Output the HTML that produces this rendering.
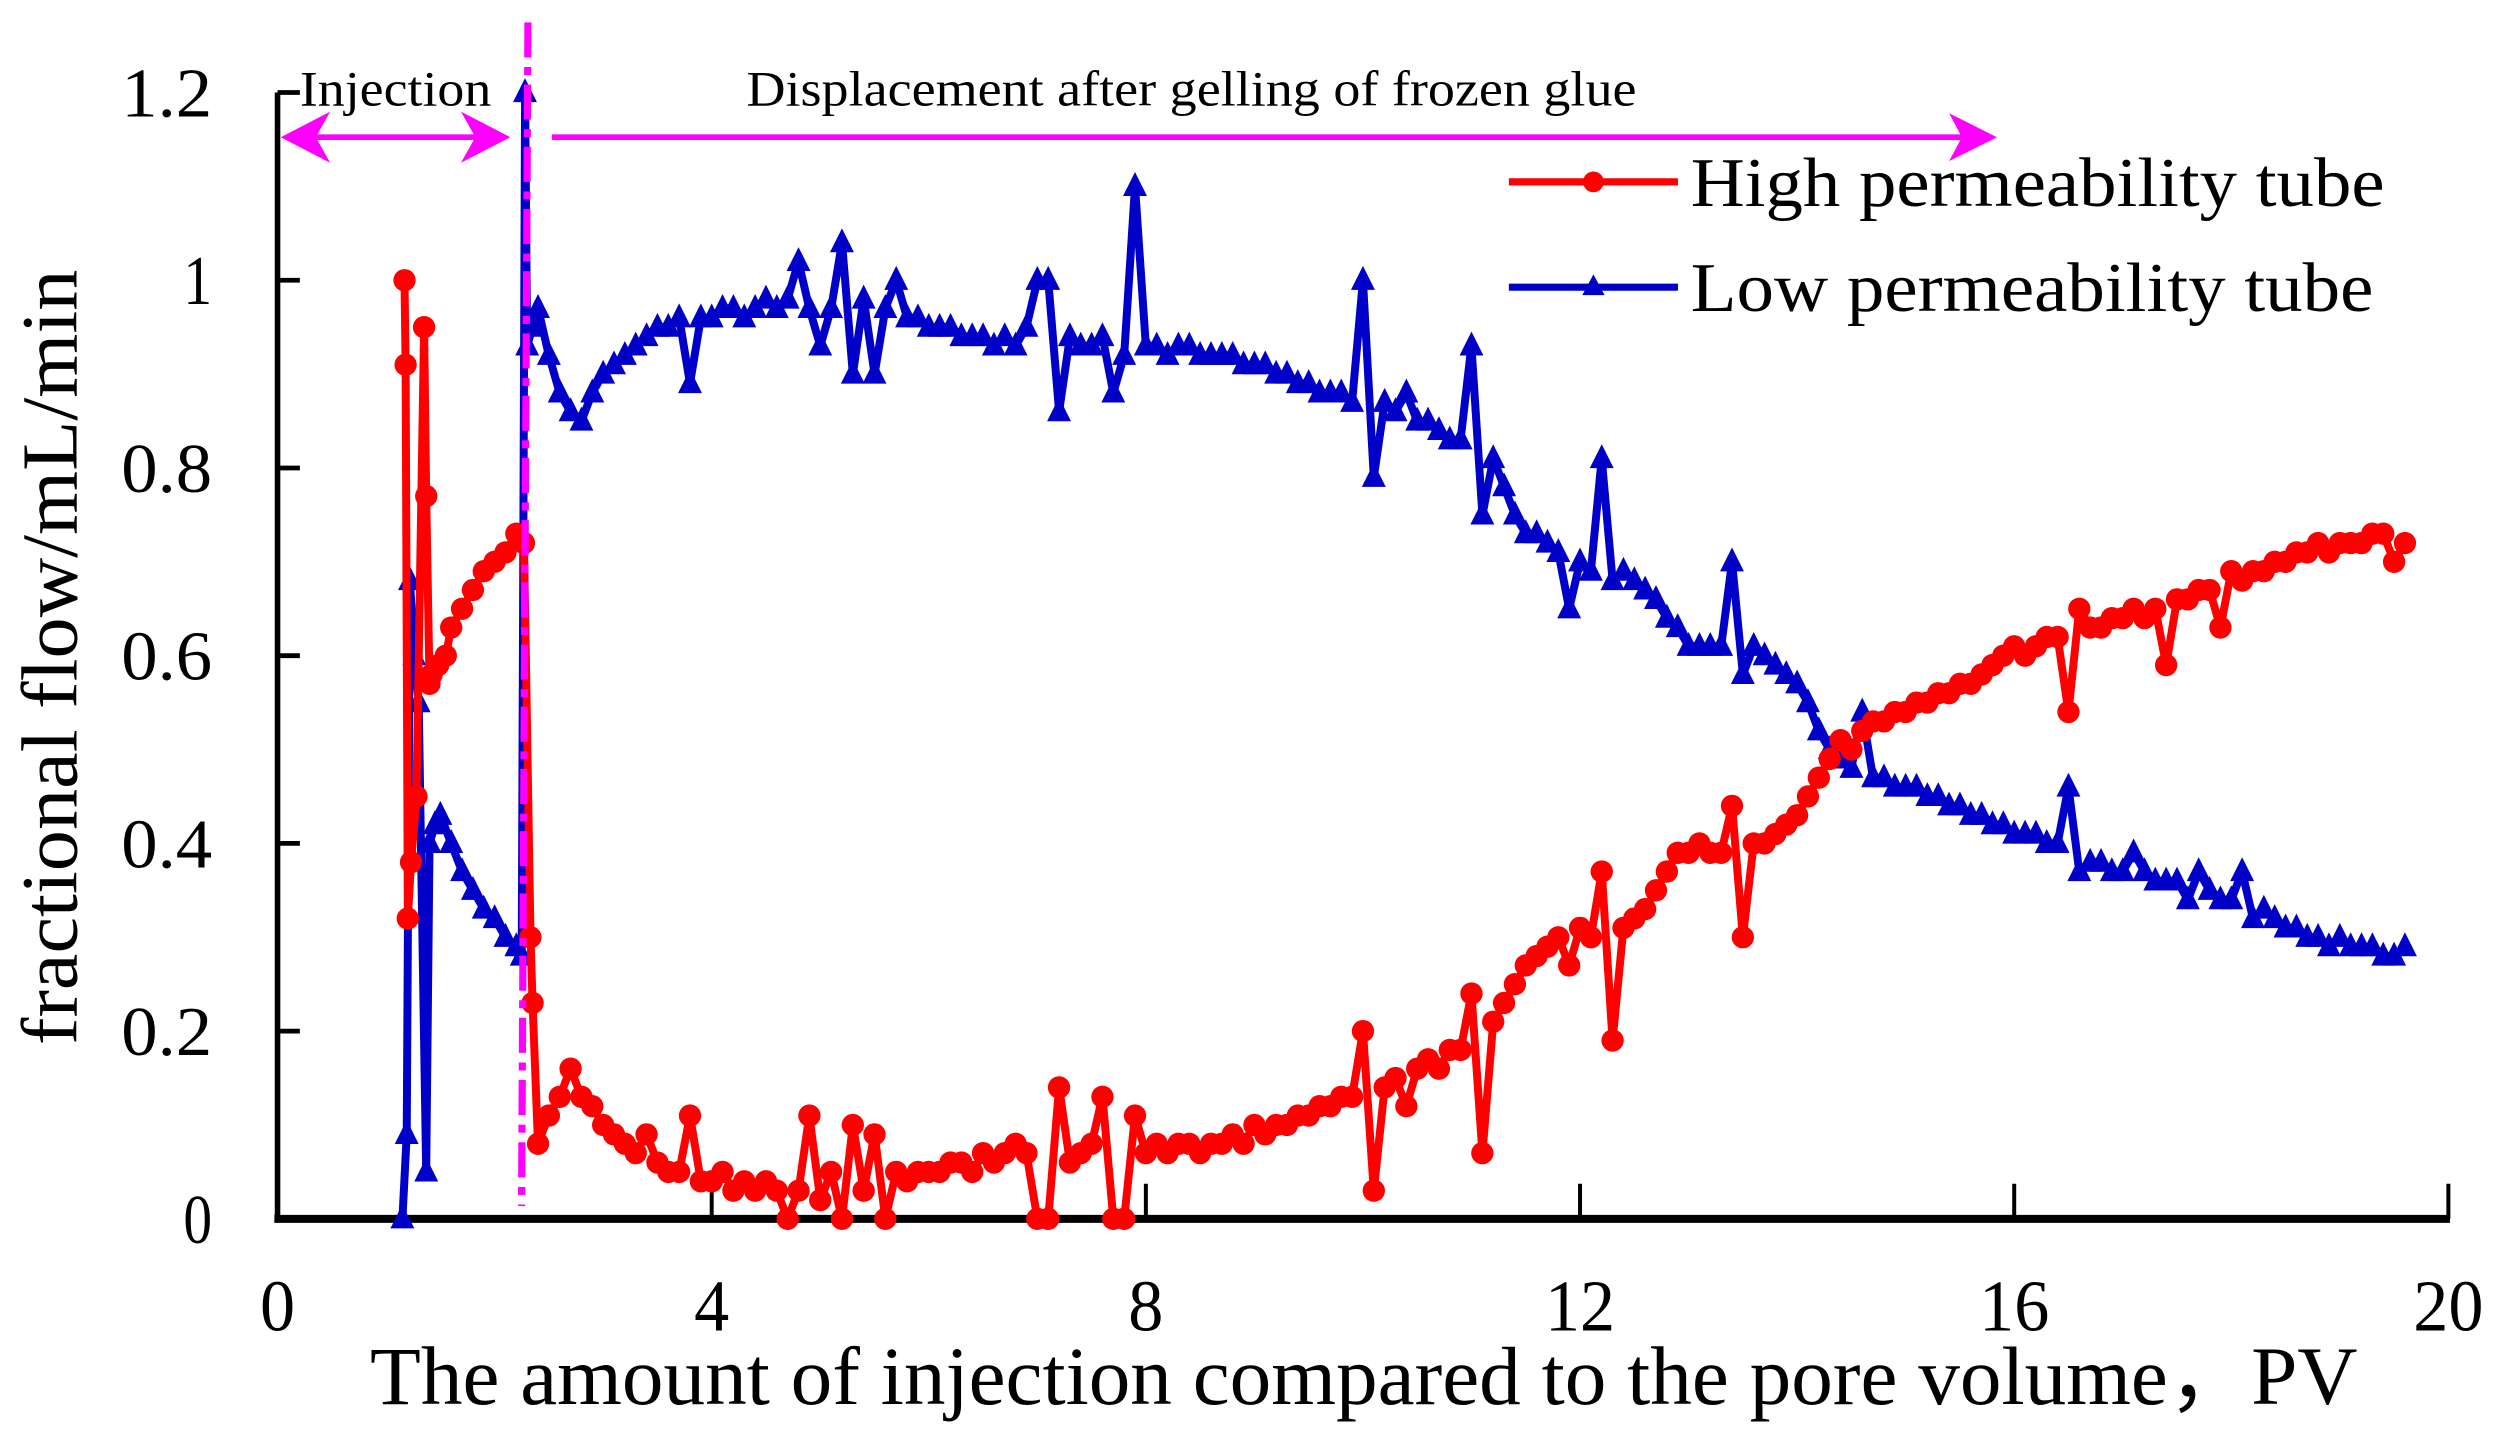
<!DOCTYPE html>
<html><head><meta charset="utf-8"><style>
html,body{margin:0;padding:0;background:#fff;}
svg{display:block;}
text{font-family:"Liberation Serif",serif;fill:#000;}
</style></head><body>
<svg id="chart" width="2501" height="1439" viewBox="0 0 1568 902" preserveAspectRatio="none" xmlns="http://www.w3.org/2000/svg">
<g id="axes"></g>
<g id="series"></g>
<g id="annot">
  <line x1="331" y1="14" x2="327" y2="756" stroke="#ff00ff" stroke-width="4.5" stroke-dasharray="22,6,5,6"/>
  <line x1="186" y1="86" x2="310" y2="86" stroke="#ff00ff" stroke-width="3.5"/>
  <polygon points="176,86 207,70 198,86 207,102" fill="#ff00ff"/>
  <polygon points="320,86 289,70 298,86 289,102" fill="#ff00ff"/>
  <text x="188" y="66" font-size="31" textLength="120" lengthAdjust="spacingAndGlyphs">Injection</text>
  <line x1="346" y1="86" x2="1236" y2="86" stroke="#ff00ff" stroke-width="3.5"/>
  <polygon points="1252,86 1222,71 1230,86 1222,101" fill="#ff00ff"/>
  <text x="468" y="66" font-size="31" textLength="558" lengthAdjust="spacingAndGlyphs">Displacement after gelling of frozen glue</text>
</g>
<g id="legend">
  <g>
    <line x1="946" y1="114" x2="1052" y2="114" stroke="#ff0000" stroke-width="4.5"/>
    <circle cx="999" cy="114" r="6.5" fill="#ff0000"/>
    <text x="1060" y="129" font-size="44" textLength="435" lengthAdjust="spacingAndGlyphs">High permeability tube</text>
  </g>
  <g>
    <line x1="946" y1="180" x2="1052" y2="180" stroke="#0000c8" stroke-width="4.5"/>
    <polygon points="999,172 1006,185 992,185" fill="#0000c8"/>
    <text x="1060" y="195" font-size="44" textLength="428" lengthAdjust="spacingAndGlyphs">Low permeability tube</text>
  </g>
</g>
<text x="232" y="880" font-size="52" textLength="1246" lengthAdjust="spacingAndGlyphs">The amount of injection compared to the pore volume，PV</text>
<text x="0" y="0" font-size="50" textLength="486" lengthAdjust="spacingAndGlyphs" text-anchor="middle" transform="translate(48,412) rotate(-90)">fractional flow/mL/min</text>
</svg>
<script>
const xTicks = [0, 4, 8, 12, 16, 20];
const yTicks = [0, 0.2, 0.4, 0.6, 0.8, 1, 1.2];
const yTickLabels = ["0", "0.2", "0.4", "0.6", "0.8", "1", "1.2"];
const injHighX = [1.17,1.18,1.2,1.23,1.28,1.35,1.37,1.4,1.42,1.48,1.55,1.6,1.7,1.8,1.9,2.0,2.1,2.2,2.27,2.33,2.35];
const injHighY = [1,0.91,0.32,0.38,0.45,0.95,0.77,0.57,0.58,0.59,0.6,0.63,0.65,0.67,0.69,0.7,0.71,0.73,0.72,0.3,0.23];
const injLowX = [1.15,1.19,1.22,1.26,1.3,1.37,1.4,1.45,1.5,1.6,1.7,1.8,1.9,2.0,2.1,2.2,2.25,2.28,2.3,2.35];
const injLowY = [0,0.09,0.68,0.6,0.55,0.05,0.4,0.42,0.43,0.4,0.37,0.35,0.33,0.32,0.3,0.29,0.28,1.2,0.93,0.95];
const dispStart = 2.4;
const dispStep = 0.1;
const dispLow = [.97,.92,.88,.86,.85,.88,.90,.91,.92,.93,.94,.95,.95,.96,.89,.96,.96,.97,.97,.96,.97,.98,.97,.98,1.02,.97,.93,.97,1.04,.90,.98,.90,.97,1.00,.96,.96,.95,.95,.95,.94,.94,.94,.93,.94,.93,.95,1.00,1.00,.86,.94,.93,.93,.94,.88,.92,1.10,.93,.93,.92,.93,.93,.92,.92,.92,.92,.91,.91,.91,.90,.90,.89,.89,.88,.88,.88,.87,1.00,.79,.87,.86,.88,.85,.85,.84,.83,.83,.93,.75,.81,.78,.75,.73,.73,.72,.71,.65,.70,.69,.81,.68,.69,.68,.67,.66,.64,.63,.61,.61,.61,.61,.70,.58,.61,.60,.59,.58,.57,.55,.52,.50,.49,.48,.54,.47,.47,.46,.46,.46,.45,.45,.44,.44,.43,.43,.42,.42,.41,.41,.41,.40,.40,.46,.37,.38,.38,.37,.37,.39,.37,.36,.36,.36,.34,.37,.35,.34,.34,.37,.32,.33,.32,.31,.31,.30,.30,.29,.30,.29,.29,.29,.28,.28,.29];
const dispHigh = [.08,.11,.13,.16,.13,.12,.10,.09,.08,.07,.09,.06,.05,.05,.11,.04,.04,.05,.03,.04,.03,.04,.03,.00,.03,.11,.02,.05,.00,.10,.03,.09,.00,.05,.04,.05,.05,.05,.06,.06,.05,.07,.06,.07,.08,.07,.00,.00,.14,.06,.07,.08,.13,.00,.00,.11,.07,.08,.07,.08,.08,.07,.08,.08,.09,.08,.10,.09,.10,.10,.11,.11,.12,.12,.13,.13,.20,.03,.14,.15,.12,.16,.17,.16,.18,.18,.24,.07,.21,.23,.25,.27,.28,.29,.30,.27,.31,.30,.37,.19,.31,.32,.33,.35,.37,.39,.39,.40,.39,.39,.44,.30,.40,.40,.41,.42,.43,.45,.47,.49,.51,.50,.52,.53,.53,.54,.54,.55,.55,.56,.56,.57,.57,.58,.59,.60,.61,.60,.61,.62,.62,.54,.65,.63,.63,.64,.64,.65,.64,.65,.59,.66,.66,.67,.67,.63,.69,.68,.69,.69,.70,.70,.71,.71,.72,.71,.72,.72,.72,.73,.73,.70,.72];

const NS = "http://www.w3.org/2000/svg";
const X0 = 174, X1 = 1535, Y0 = 764, Y1 = 58;
function sx(v){ return X0 + v * (X1 - X0) / 20; }
function sy(v){ return Y0 - v * (Y0 - Y1) / 1.2; }
function mk(tag, attrs, parent){ const e = document.createElementNS(NS, tag); for (const k in attrs) e.setAttribute(k, attrs[k]); parent.appendChild(e); return e; }

const axes = document.getElementById('axes');
let el = mk('line', {x1:X0, y1:Y1, x2:X0, y2:Y0+2, stroke:'#000', 'stroke-width':3.5}, axes);


el = mk('line', {x1:X0-2, y1:Y0, x2:X1+1, y2:Y0, stroke:'#000', 'stroke-width':5}, axes);


xTicks.forEach(function(t){
  const x = sx(t);
  if (t > 0) {
    const tk = mk('line', {x1:x, y1:Y0, x2:x, y2:Y0-22, stroke:'#000', 'stroke-width':2.5}, axes);
    
    
  }
  const s = String(t);
  const lb = mk('text', {x:x, y:834, 'font-size':46, 'text-anchor':'middle', textLength: s.length * 22, lengthAdjust:'spacingAndGlyphs'}, axes);
  lb.textContent = s;
  
  
});
yTicks.forEach(function(t, i){
  const y = sy(t);
  if (t > 0) {
    const tk = mk('line', {x1:X0, y1:y, x2:X0+14, y2:y, stroke:'#000', 'stroke-width':3}, axes);
    
    
  }
  const s = yTickLabels[i];
  const lb = mk('text', {x:133, y:y+15, 'font-size':44, 'text-anchor':'end', textLength: s.length === 1 ? 18 : 57, lengthAdjust:'spacingAndGlyphs'}, axes);
  lb.textContent = s;
  
  
});

const series = document.getElementById('series');
function build(injX, injY, disp){
  const xs = injX.slice(), ys = injY.slice();
  disp.forEach(function(v, i){ xs.push(dispStart + i * dispStep); ys.push(v); });
  return {xs: xs, ys: ys};
}
function drawSeries(d, color, marker, name){
  const g = mk('g', {}, series);
  
  
  const pts = d.xs.map(function(x, i){ return sx(x).toFixed(1) + ',' + sy(d.ys[i]).toFixed(1); }).join(' ');
  const pl = mk('polyline', {points:pts, fill:'none', stroke:color, 'stroke-width':5, 'stroke-linejoin':'round'}, g);
  
  
  d.xs.forEach(function(x, i){
    const px = sx(x), py = sy(d.ys[i]);
    let m;
    if (marker === 'circle') m = mk('circle', {cx:px, cy:py, r:7, fill:color}, g);
    else m = mk('polygon', {points:(px)+','+(py-9)+' '+(px+7.5)+','+(py+6)+' '+(px-7.5)+','+(py+6), fill:color}, g);
    
    
  });
}
drawSeries(build(injLowX, injLowY, dispLow), '#0000c8', 'triangle', 'low-permeability-series');
drawSeries(build(injHighX, injHighY, dispHigh), '#ff0000', 'circle', 'high-permeability-series');
</script>
</body></html>
